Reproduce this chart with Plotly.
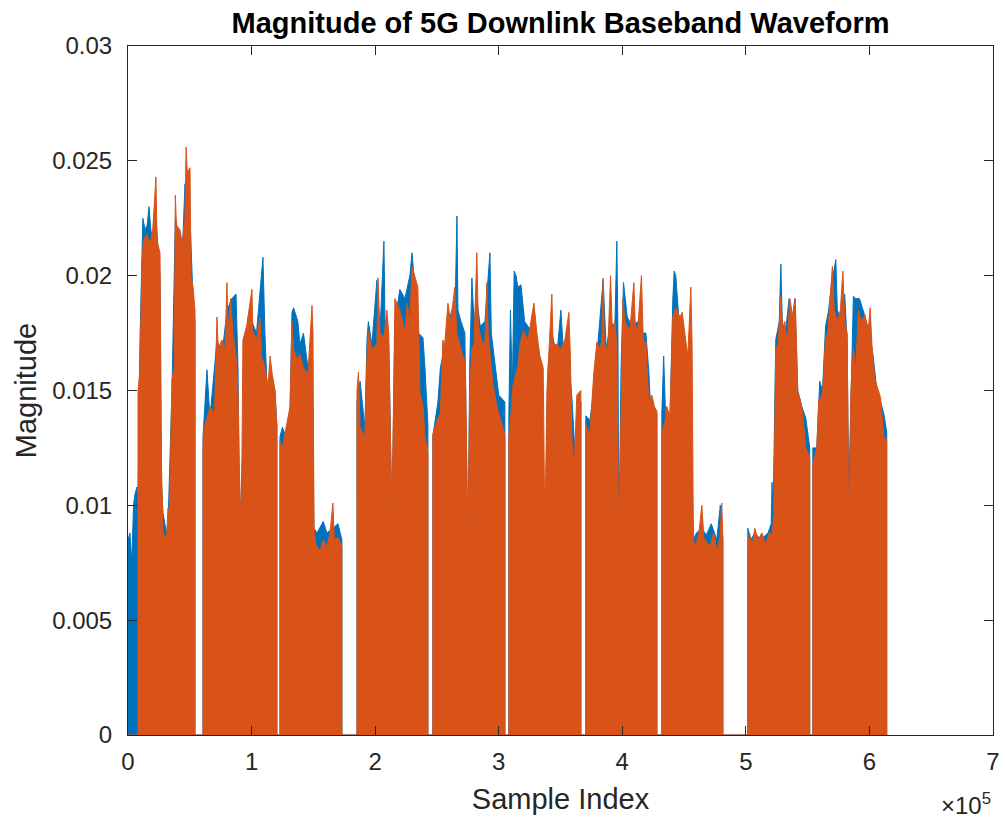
import plotly.graph_objects as go

# Upper envelope of |waveform|: (sample index in thousands, magnitude)
blue_env = [
    (0, 0), (0, 0.0085), (1.6, 0.0088), (3.0, 0.0075), (4.5, 0.0100), (5.7, 0.0105), (7.3, 0.0108),
    (8.1, 0.0100), (9.7, 0.0172), (11.3, 0.0205), (12.0, 0.0225), (13.8, 0.0220), (15.5, 0.0222),
    (17.0, 0.0230), (18.5, 0.0220), (20.0, 0.0215), (22.6, 0.0225), (25.9, 0.0200), (27.0, 0.0110),
    (28.3, 0.0097), (31.0, 0.0088), (32.4, 0.0092), (35.6, 0.0150), (38.3, 0.0225), (42.0, 0.0215),
    (44.0, 0.0210), (46.1, 0.0240), (48.0, 0.0225), (50.2, 0.0225), (52.6, 0.0190), (54.2, 0.0180),
    (54.2, 0),
    (60.7, 0), (60.7, 0.0130), (63.9, 0.0159), (66.3, 0.0138), (72.0, 0.0172), (76.0, 0.0165),
    (80.1, 0.0185), (84.1, 0.0190), (87.4, 0.0192), (89.0, 0.0160), (90.6, 0.0090), (92.2, 0.0115),
    (97.1, 0.0182), (100.3, 0.0180), (104.0, 0.0175), (109.2, 0.0208), (110.8, 0.0175), (113.3, 0.0140),
    (115.0, 0.0160), (118.9, 0.0150), (120.5, 0.0135), (120.5, 0),
    (123.0, 0), (123.0, 0.0130), (125.0, 0.0134), (127.0, 0.0131), (131.1, 0.0140), (132.7, 0.0184),
    (134.0, 0.0186), (137.5, 0.0180), (139.1, 0.0170), (142.0, 0.0175), (145.6, 0.0160), (148.9, 0.0170),
    (150.5, 0.0090), (153.0, 0.0088), (158.0, 0.0093), (161.0, 0.0088), (165.8, 0.0090), (169.9, 0.0092),
    (173.1, 0.0085), (173.1, 0),
    (185.3, 0), (185.3, 0.0145), (187.8, 0.0154), (191.7, 0.0134), (193.4, 0.0172), (194.5, 0.0180),
    (197.4, 0.0170), (201.4, 0.0198), (203.9, 0.0175), (207.1, 0.0215), (208.0, 0.0180), (211.0, 0.0170),
    (213.6, 0.0095), (216.0, 0.0180), (220.0, 0.0194), (224.1, 0.0190), (228.1, 0.0200), (229.8, 0.0210),
    (232.2, 0.0195), (235.0, 0.0175), (238.7, 0.0173), (240.3, 0.0160), (242.7, 0.0135), (242.7, 0),
    (246.7, 0), (246.7, 0.0130), (250.8, 0.0145), (252.8, 0.0160), (254.8, 0.0165), (258.9, 0.0178),
    (262.1, 0.0185), (264.5, 0.0180), (266.2, 0.0226), (267.0, 0.0185), (269.5, 0.0180), (272.6, 0.0175),
    (275.1, 0.0078), (276.5, 0.0160), (278.3, 0.0199), (280.0, 0.0180), (282.3, 0.0190), (285.0, 0.0178),
    (288.8, 0.0180), (292.9, 0.0210), (294.0, 0.0175), (297.0, 0.0160), (300.0, 0.0148), (305.0, 0.0145),
    (305.0, 0),
    (308.2, 0), (308.2, 0.0140), (309.5, 0.0185), (311.0, 0.0150), (312.5, 0.0202), (314.0, 0.0200),
    (315.5, 0.0195), (318.0, 0.0196), (321.0, 0.0180), (323.6, 0.0178), (327.6, 0.0174), (330.9, 0.0170),
    (334.0, 0.0163), (337.4, 0.0085), (340.0, 0.0160), (343.0, 0.0175), (347.0, 0.0165), (350.3, 0.0185),
    (352.0, 0.0170), (356.0, 0.0168), (359.2, 0.0147), (362.0, 0.0120), (366.5, 0.0145), (366.5, 0),
    (370.5, 0), (370.5, 0.0139), (373.8, 0.0137), (377.0, 0.0150), (379.4, 0.0165), (384.5, 0.0198),
    (387.0, 0.0168), (390.5, 0.0180), (394.0, 0.0178), (395.6, 0.0215), (396.5, 0.0175), (397.2, 0.0080),
    (399.0, 0.0160), (401.0, 0.0197), (404.0, 0.0182), (408.0, 0.0178), (412.6, 0.0180), (416.0, 0.0175),
    (419.1, 0.0175), (421.5, 0.0158), (424.0, 0.0130), (428.0, 0.0140), (428.0, 0),
    (432.0, 0), (432.0, 0.0140), (433.5, 0.0165), (435.0, 0.0140), (438.5, 0.0135), (440.9, 0.0190),
    (442.0, 0.0202), (443.3, 0.0200), (446.6, 0.0175), (450.6, 0.0165), (454.7, 0.0160), (457.5, 0.0085),
    (460.0, 0.0088), (464.4, 0.0090), (468.0, 0.0087), (472.0, 0.0092), (476.5, 0.0085), (479.3, 0.0100),
    (481.4, 0.0085), (481.4, 0),
    (501.6, 0), (501.6, 0.0090), (504.0, 0.0085), (507.2, 0.0088), (512.0, 0.0085), (518.0, 0.0088),
    (520.5, 0.0092), (521.2, 0.0110), (522.0, 0.0095), (524.2, 0.0172), (527.0, 0.0180), (528.3, 0.0205),
    (529.5, 0.0180), (532.0, 0.0175), (535.0, 0.0190), (537.0, 0.0178), (539.6, 0.0190), (542.0, 0.0150),
    (545.3, 0.0143), (548.5, 0.0138), (551.7, 0.0125), (551.7, 0),
    (554.2, 0), (554.2, 0.0125), (557.4, 0.0125), (559.8, 0.0154), (562.0, 0.0150), (564.5, 0.0178),
    (567.0, 0.0185), (569.0, 0.0195), (572.8, 0.0207), (574.0, 0.0185), (576.0, 0.0182), (580.0, 0.0192),
    (582.0, 0.0170), (583.3, 0.0104), (585.0, 0.0150), (587.0, 0.0191), (589.0, 0.0190), (592.0, 0.0190),
    (596.0, 0.0183), (600.0, 0.0175), (603.0, 0.0165), (606.0, 0.0150), (609.0, 0.0145), (611.6, 0.0140),
    (614.0, 0.0132), (614.0, 0),
]

orange_env = [
    (0, 0), (8.1, 0), (8.1, 0.0150), (9.7, 0.0159), (11.3, 0.0205), (12.5, 0.0215), (15.0, 0.0218),
    (18.0, 0.0214), (20.0, 0.0220), (22.6, 0.0243), (23.5, 0.0215), (25.9, 0.0210), (27.0, 0.0120),
    (28.3, 0.0088), (31.0, 0.0085), (32.4, 0.0099), (33.5, 0.0095), (35.6, 0.0155), (37.5, 0.0160),
    (38.3, 0.0235), (39.2, 0.0222), (42.0, 0.0220), (44.0, 0.0214), (46.1, 0.0225), (47.0, 0.0256),
    (48.0, 0.0245), (50.2, 0.0247), (51.0, 0.0200), (52.6, 0.0195), (54.2, 0.0185), (54.2, 0),
    (60.7, 0), (60.7, 0.0125), (61.5, 0.0134), (64.0, 0.0138), (66.3, 0.0143), (70.0, 0.0140),
    (72.0, 0.0182), (73.0, 0.0168), (76.0, 0.0172), (78.5, 0.0168), (80.1, 0.0197), (81.0, 0.0175),
    (83.0, 0.0190), (85.0, 0.0175), (87.4, 0.0165), (89.0, 0.0150), (90.6, 0.0088), (92.2, 0.0120),
    (93.0, 0.0172), (96.0, 0.0178), (100.3, 0.0194), (101.0, 0.0176), (104.0, 0.0172), (106.8, 0.0182),
    (108.0, 0.0165), (110.8, 0.0160), (113.3, 0.0152), (115.0, 0.0165), (116.5, 0.0158), (118.9, 0.0150),
    (120.5, 0.0134), (120.5, 0),
    (123.0, 0), (123.0, 0.0128), (125.0, 0.0125), (127.0, 0.0131), (129.0, 0.0137), (131.1, 0.0143),
    (132.7, 0.0180), (134.0, 0.0168), (137.5, 0.0163), (139.1, 0.0166), (142.0, 0.0160), (145.6, 0.0157),
    (148.9, 0.0187), (149.7, 0.0175), (150.5, 0.0090), (152.0, 0.0083), (155.3, 0.0080), (158.0, 0.0085),
    (161.0, 0.0082), (163.5, 0.0088), (165.8, 0.0101), (167.0, 0.0085), (169.9, 0.0086), (173.1, 0.0082),
    (173.1, 0),
    (185.3, 0), (185.3, 0.0150), (186.5, 0.0158), (187.8, 0.0134), (191.7, 0.0130), (193.4, 0.0165),
    (194.5, 0.0176), (197.4, 0.0168), (201.4, 0.0170), (202.3, 0.0199), (203.9, 0.0175), (207.1, 0.0173),
    (209.5, 0.0185), (211.0, 0.0175), (213.6, 0.0090), (215.0, 0.0150), (216.0, 0.0190), (220.0, 0.0185),
    (224.1, 0.0176), (226.0, 0.0188), (228.1, 0.0180), (229.8, 0.0204), (232.2, 0.0199), (234.6, 0.0195),
    (236.2, 0.0149), (238.7, 0.0143), (240.3, 0.0130), (242.7, 0.0123), (242.7, 0),
    (246.7, 0), (246.7, 0.0131), (249.0, 0.0135), (250.8, 0.0138), (252.8, 0.0140), (254.8, 0.0172),
    (256.0, 0.0168), (258.9, 0.0188), (261.0, 0.0180), (264.5, 0.0195), (266.0, 0.0175), (268.6, 0.0170),
    (271.0, 0.0165), (273.0, 0.0163), (275.1, 0.0080), (276.5, 0.0150), (278.3, 0.0168), (280.0, 0.0170),
    (282.3, 0.0210), (283.5, 0.0178), (286.0, 0.0172), (288.8, 0.0170), (290.4, 0.0197), (291.5, 0.0175),
    (293.0, 0.0165), (295.3, 0.0153), (298.5, 0.0143), (301.0, 0.0138), (305.0, 0.0131), (305.0, 0),
    (308.2, 0), (308.2, 0.0130), (310.0, 0.0140), (311.5, 0.0152), (314.0, 0.0158), (315.5, 0.0160),
    (317.1, 0.0170), (320.0, 0.0176), (323.6, 0.0172), (326.0, 0.0180), (328.5, 0.0188), (330.9, 0.0175),
    (333.3, 0.0165), (336.0, 0.0160), (337.4, 0.0085), (339.0, 0.0150), (341.0, 0.0169), (343.0, 0.0192),
    (344.0, 0.0170), (347.0, 0.0170), (350.3, 0.0168), (353.5, 0.0172), (356.8, 0.0184), (358.0, 0.0165),
    (359.2, 0.0130), (361.0, 0.0115), (363.2, 0.0148), (366.5, 0.0150), (366.5, 0),
    (370.5, 0), (370.5, 0.0135), (373.8, 0.0131), (375.4, 0.0145), (377.0, 0.0158), (379.4, 0.0171),
    (381.8, 0.0168), (383.5, 0.0172), (384.5, 0.0199), (385.5, 0.0170), (388.3, 0.0168), (390.5, 0.0200),
    (392.0, 0.0175), (394.0, 0.0180), (395.6, 0.0170), (397.2, 0.0080), (399.0, 0.0150), (400.5, 0.0190),
    (402.1, 0.0180), (406.1, 0.0176), (409.4, 0.0197), (410.5, 0.0178), (412.6, 0.0177), (415.5, 0.0200),
    (417.0, 0.0172), (419.1, 0.0171), (421.5, 0.0145), (423.9, 0.0148), (426.0, 0.0143), (428.0, 0.0141),
    (428.0, 0),
    (432.0, 0), (432.0, 0.0132), (434.4, 0.0136), (436.0, 0.0143), (438.5, 0.0139), (440.9, 0.0182),
    (443.3, 0.0186), (446.6, 0.0182), (448.5, 0.0184), (450.6, 0.0175), (453.0, 0.0165), (455.5, 0.0195),
    (456.5, 0.0170), (457.5, 0.0085), (459.0, 0.0082), (462.0, 0.0088), (464.4, 0.0100), (466.0, 0.0086),
    (470.8, 0.0082), (474.0, 0.0088), (476.5, 0.0080), (479.0, 0.0086), (480.5, 0.0101), (481.4, 0.0085),
    (481.4, 0),
    (501.6, 0), (501.6, 0.0082), (503.0, 0.0088), (505.0, 0.0082), (507.2, 0.0090), (510.0, 0.0085),
    (513.0, 0.0088), (516.0, 0.0083), (519.0, 0.0088), (521.0, 0.0087), (522.6, 0.0095), (524.2, 0.0168),
    (526.0, 0.0170), (528.3, 0.0191), (530.0, 0.0175), (531.5, 0.0180), (533.5, 0.0170), (535.6, 0.0190),
    (538.0, 0.0182), (540.0, 0.0190), (542.0, 0.0149), (544.0, 0.0146), (546.0, 0.0140), (548.5, 0.0125),
    (551.7, 0.0121), (551.7, 0),
    (554.2, 0), (554.2, 0.0118), (557.4, 0.0125), (559.0, 0.0146), (562.0, 0.0148), (564.5, 0.0173),
    (566.3, 0.0175), (568.5, 0.0194), (570.0, 0.0204), (571.5, 0.0185), (574.0, 0.0180), (576.5, 0.0185),
    (578.5, 0.0202), (580.0, 0.0180), (582.0, 0.0175), (583.3, 0.0080), (585.0, 0.0150), (587.0, 0.0168),
    (589.0, 0.0160), (591.0, 0.0185), (593.5, 0.0180), (596.3, 0.0183), (599.0, 0.0176), (600.6, 0.0186),
    (602.0, 0.0170), (604.3, 0.0155), (607.0, 0.0150), (609.0, 0.0147), (611.6, 0.0130), (614.0, 0.0128),
    (614.0, 0),
]

x_tickvals = [0, 100000, 200000, 300000, 400000, 500000, 600000, 700000]
x_ticktext = ["0", "1", "2", "3", "4", "5", "6", "7"]
y_tickvals = [0, 0.005, 0.01, 0.015, 0.02, 0.025, 0.03]
y_ticktext = ["0", "0.005", "0.01", "0.015", "0.02", "0.025", "0.03"]

BLUE = "#0072BD"
ORANGE = "#D95319"
AX = "#262626"
FONT = "Liberation Sans, Arial, Helvetica, sans-serif"

fig = go.Figure()
fig.add_trace(go.Scatter(
    x=[p[0] * 1000 for p in blue_env], y=[p[1] for p in blue_env],
    mode="lines", line=dict(color=BLUE, width=1), fill="tozeroy", fillcolor=BLUE,
    showlegend=False, hoverinfo="skip"))
fig.add_trace(go.Scatter(
    x=[p[0] * 1000 for p in orange_env], y=[p[1] for p in orange_env],
    mode="lines", line=dict(color=ORANGE, width=1), fill="tozeroy", fillcolor=ORANGE,
    showlegend=False, hoverinfo="skip"))

axis_common = dict(
    showline=True, linecolor=AX, linewidth=1, mirror="ticks",
    ticks="inside", ticklen=9, tickcolor=AX, tickwidth=1,
    showgrid=False, zeroline=False, automargin=False,
    ticklabeloverflow="allow",
    tickfont=dict(family=FONT, size=24, color=AX),
)

fig.update_layout(
    width=1005, height=821,
    margin=dict(l=128, r=12, t=46, b=86, autoexpand=False),
    paper_bgcolor="white", plot_bgcolor="white",
    title=dict(text="<b>Magnitude of 5G Downlink Baseband Waveform</b>",
               x=0.5, xanchor="center", xref="paper", y=0.972, yanchor="middle",
               font=dict(family=FONT, size=29, color="black")),
    xaxis=dict(range=[0, 700000], tickvals=x_tickvals, ticktext=x_ticktext,
               ticklabelstandoff=5,
               title=dict(text="Sample Index", font=dict(family=FONT, size=29, color=AX), standoff=14),
               **axis_common),
    yaxis=dict(range=[0, 0.03], tickvals=y_tickvals, ticktext=y_ticktext,
               ticklabelstandoff=10,
               title=dict(text="Magnitude", font=dict(family=FONT, size=29, color=AX), standoff=6),
               **axis_common),
    annotations=[dict(text="×10<sup>5</sup>", x=1.0, xref="paper", y=-0.1, yref="paper",
                      xanchor="right", yanchor="middle", showarrow=False,
                      font=dict(family=FONT, size=24, color=AX))],
)

fig.write_html("out.html")
